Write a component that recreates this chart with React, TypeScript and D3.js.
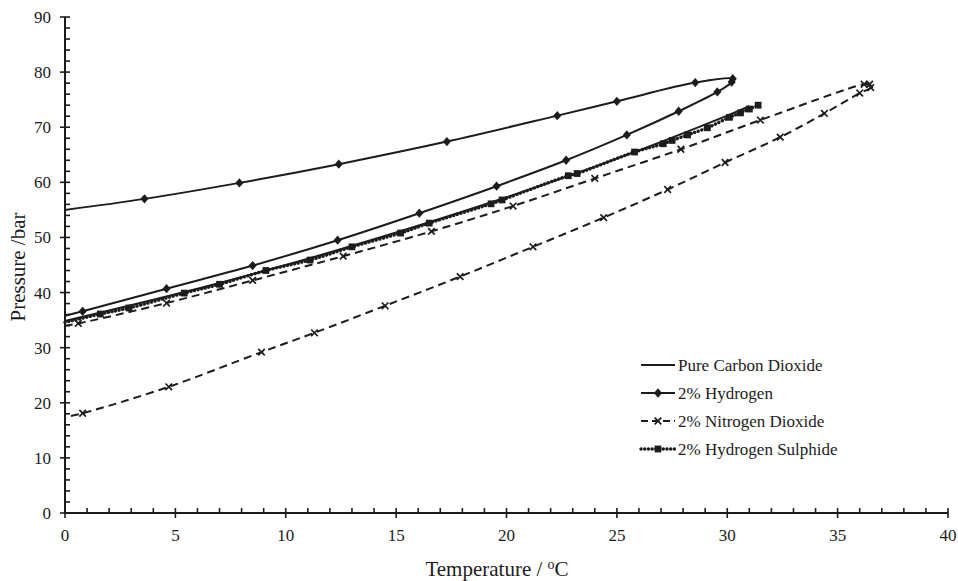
import React, { useRef, useEffect } from 'react'
import * as d3 from 'd3'

// pure CO2 saturation line (no markers)
const co2Temp = [0, 5, 10, 15, 20, 25, 30, 31]
const co2Pres = [34.85, 39.7, 45.0, 50.9, 57.3, 64.3, 72.1, 73.8]

// 2% hydrogen: bubble side then back down the dew side
const h2Temp = [0, 3.6, 7.9, 12.4, 17.3, 22.3, 25.0, 28.55, 30.25, 30.2, 29.55, 27.8, 25.45, 22.7, 19.55, 16.05, 12.35, 8.5, 4.6, 0.8, 0]
const h2Pres = [55.0, 57.0, 59.9, 63.3, 67.4, 72.1, 74.7, 78.1, 78.8, 78.2, 76.4, 72.9, 68.6, 64.0, 59.3, 54.4, 49.5, 44.9, 40.7, 36.6, 35.8]

// 2% nitrogen dioxide
const no2Temp = [0, 0.6, 4.6, 8.5, 12.6, 16.6, 20.3, 24.0, 27.9, 31.5, 36.2, 36.45, 36.5, 36.0, 34.4, 32.4, 29.9, 27.3, 24.4, 21.2, 17.9, 14.5, 11.3, 8.9, 4.7, 0.8, 0]
const no2Pres = [34.0, 34.4, 38.1, 42.2, 46.6, 51.1, 55.7, 60.7, 66.0, 71.3, 77.8, 77.8, 77.2, 76.2, 72.5, 68.2, 63.6, 58.7, 53.6, 48.3, 42.9, 37.6, 32.7, 29.2, 22.9, 18.1, 17.4]

// 2% hydrogen sulphide
const h2sTemp = [0, 1.6, 2.9, 5.4, 7.0, 9.1, 11.1, 13.0, 15.2, 16.5, 19.3, 19.8, 22.8, 23.2, 25.8, 27.1, 27.5, 28.2, 29.1, 30.1, 30.6, 31.0, 31.4]
const h2sPres = [34.6, 36.1, 37.2, 39.9, 41.5, 44.0, 45.9, 48.3, 50.8, 52.6, 56.1, 56.8, 61.2, 61.6, 65.5, 67.0, 67.6, 68.6, 69.9, 71.8, 72.6, 73.3, 74.0]

const xTicks = [0, 5, 10, 15, 20, 25, 30, 35, 40]
const yTicks = [0, 10, 20, 30, 40, 50, 60, 70, 80, 90]
const legendLabels = ['Pure Carbon Dioxide', '2% Hydrogen', '2% Nitrogen Dioxide', '2% Hydrogen Sulphide']

const W = 958, H = 581
const ink = '#1c1c1c'
const font = 'Liberation Serif, DejaVu Serif, serif'

function App() {
  const ref = useRef(null)

  useEffect(() => {
    const svg = d3.select(ref.current)
    svg.selectAll('*').remove()

    const x = d3.scaleLinear().domain([0, 40]).range([65, 948])
    const y = d3.scaleLinear().domain([0, 90]).range([513, 17])

    const series = [
      { name: legendLabels[0], t: co2Temp, p: co2Pres, dash: null, width: 2, marker: null },
      { name: legendLabels[1], t: h2Temp, p: h2Pres, dash: null, width: 2, marker: 'diamond' },
      { name: legendLabels[2], t: no2Temp, p: no2Pres, dash: '8,5', width: 2, marker: 'x' },
      { name: legendLabels[3], t: h2sTemp, p: h2sPres, dash: '0.1,3.6', width: 3.4, marker: 'square' },
    ]

    const lineGen = d3.line<number[]>()
      .x(d => x(d[0]))
      .y(d => y(d[1]))
      .curve(d3.curveCatmullRom.alpha(0.5))

    const drawMarker = (g, type, cx, cy) => {
      if (type === 'diamond') {
        g.append('path').attr('d', d3.symbol(d3.symbolDiamond2, 42)())
          .attr('transform', `translate(${cx},${cy}) scale(1,1.15)`).attr('fill', ink)
      } else if (type === 'x') {
        g.append('path').attr('d', d3.symbol(d3.symbolX, 30)())
          .attr('transform', `translate(${cx},${cy})`)
          .attr('fill', 'none').attr('stroke', ink).attr('stroke-width', 1.7)
      } else if (type === 'square') {
        g.append('path').attr('d', d3.symbol(d3.symbolSquare, 46)())
          .attr('transform', `translate(${cx},${cy})`).attr('fill', ink)
      }
    }

    // axes
    const ax = svg.append('g')
    ax.append('line').attr('x1', 65).attr('x2', 65).attr('y1', 17).attr('y2', 513)
      .attr('stroke', ink).attr('stroke-width', 2)
    ax.append('line').attr('x1', 65).attr('x2', 948).attr('y1', 513).attr('y2', 513)
      .attr('stroke', ink).attr('stroke-width', 2)

    for (let v = 0; v <= 90; v += 2) {
      const major = v % 10 === 0
      ax.append('line')
        .attr('x1', major ? 60 : 65).attr('x2', 70)
        .attr('y1', y(v)).attr('y2', y(v))
        .attr('stroke', ink).attr('stroke-width', 1.6)
    }
    for (let v = 0; v <= 40; v += 1) {
      const major = v % 5 === 0
      ax.append('line')
        .attr('x1', x(v)).attr('x2', x(v))
        .attr('y1', 508).attr('y2', major ? 518 : 513)
        .attr('stroke', ink).attr('stroke-width', 1.6)
    }

    yTicks.forEach(v => {
      ax.append('text').attr('x', 51).attr('y', y(v)).attr('dy', '0.35em')
        .attr('text-anchor', 'end').attr('font-family', font).attr('font-size', 17)
        .attr('fill', ink).text(v)
    })
    xTicks.forEach(v => {
      ax.append('text').attr('x', x(v)).attr('y', 541)
        .attr('text-anchor', 'middle').attr('font-family', font).attr('font-size', 17)
        .attr('fill', ink).text(v)
    })

    ax.append('text')
      .attr('transform', `translate(25,267) rotate(-90)`)
      .attr('text-anchor', 'middle').attr('font-family', font).attr('font-size', 21)
      .attr('fill', ink).text('Pressure /bar')

    const xt = ax.append('text').attr('x', 497).attr('y', 576)
      .attr('text-anchor', 'middle').attr('font-family', font).attr('font-size', 21)
      .attr('fill', ink)
    xt.append('tspan').text('Temperature / ')
    xt.append('tspan').attr('font-size', 14).attr('dy', -7).text('o')
    xt.append('tspan').attr('dy', 7).text('C')

    // series
    series.forEach(s => {
      const pts = s.t.map((t, i) => [t, s.p[i]])
      const g = svg.append('g')
      const path = g.append('path').datum(pts)
        .attr('d', lineGen)
        .attr('fill', 'none')
        .attr('stroke', ink)
        .attr('stroke-width', s.width)
      if (s.dash) {
        path.attr('stroke-dasharray', s.dash)
        if (s.marker === 'square') path.attr('stroke-linecap', 'round')
      }
      if (s.marker) {
        pts.filter(d => d[0] > 0).forEach(d => drawMarker(g, s.marker, x(d[0]), y(d[1])))
      }
    })

    // legend
    const lg = svg.append('g')
    series.forEach((s, i) => {
      const ly = 365 + i * 28
      const l = lg.append('line').attr('x1', 641).attr('x2', 675).attr('y1', ly).attr('y2', ly)
        .attr('stroke', ink).attr('stroke-width', s.width)
      if (s.dash) {
        l.attr('stroke-dasharray', s.marker === 'x' ? '7,4' : s.dash)
        if (s.marker === 'square') l.attr('stroke-linecap', 'round')
      }
      if (s.marker) drawMarker(lg, s.marker, 658, ly)
      lg.append('text').attr('x', 678).attr('y', ly).attr('dy', '0.35em')
        .attr('font-family', font).attr('font-size', 17).attr('fill', ink).text(s.name)
    })
  }, [])

  return (
    <svg ref={ref} width={W} height={H} viewBox={`0 0 ${W} ${H}`}
      style={{ position: 'absolute', left: 0, top: 0, background: '#fff' }} />
  )
}

export default App
